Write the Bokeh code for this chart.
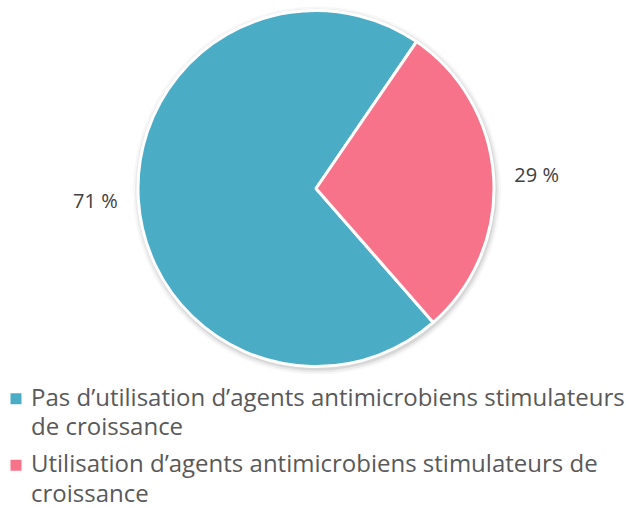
import math
from bokeh.plotting import figure
from bokeh.models import Range1d
from bokeh.core.properties import value
from bokeh.embed import file_html
from bokeh.resources import INLINE

# ---- data ----
categories = ["Pas d’utilisation d’agents antimicrobiens stimulateurs de croissance",
              "Utilisation d’agents antimicrobiens stimulateurs de croissance"]
legend_lines = [["Pas d’utilisation d’agents antimicrobiens stimulateurs", "de croissance"],
                ["Utilisation d’agents antimicrobiens stimulateurs de", "croissance"]]
values = [71, 29]
value_labels = ["71 %", "29 %"]
colors = ["#4BACC6", "#F67389"]

# ---- layout ----
W, H = 640, 508
cx, cy, R = 315.5, 320, 178
first_start_cw = 34.4 + 29 / 100 * 360 - 360  # blue slice start (clockwise from top)

p = figure(width=W, height=H, output_backend="svg", toolbar_location=None,
           x_range=Range1d(0, W), y_range=Range1d(0, H), min_border=0)
p.axis.visible = False
p.grid.visible = False
p.outline_line_color = None
p.background_fill_color = "white"

# shadow
for k, a in [(6, 0.03), (4, 0.05), (2, 0.08)]:
    p.circle(x=cx + 1, y=cy - 2, radius=R + k, fill_color="#000000", fill_alpha=a, line_color=None)

total = sum(values)
start = first_start_cw
for v, col, lab in zip(values, colors, value_labels):
    span = v / total * 360
    end = start + span
    a0 = math.radians(90 - start)
    a1 = math.radians(90 - end)
    p.wedge(x=cx, y=cy, radius=R, start_angle=a0, end_angle=a1, direction="clock",
            fill_color=col, line_color="white", line_width=3)
    mid = math.radians(90 - (start + span / 2))
    lr = 221
    p.text(x=cx + lr * math.cos(mid), y=cy + lr * math.sin(mid) + 1, text=[lab],
           text_font=value("Open Sans"), text_font_size="20px", text_color="#404040",
           text_align="center", text_baseline="middle")
    start = end

# legend
leg_x, base0, step, line_gap = 15.5, 101.3, 66.6, 29.5
text_shift = 11
for i, (lines, col) in enumerate(zip(legend_lines, colors)):
    yb = base0 - i * step
    p.rect(x=leg_x, y=yb + 8.5, width=11, height=11, fill_color=col, line_color=None)
    for j, line in enumerate(lines):
        p.text(x=leg_x + 15, y=yb + text_shift - j * line_gap, text=[line],
               text_font=value("Open Sans"), text_font_size="24px", text_color="#595959",
               text_align="left", text_baseline="alphabetic")

open("out.html", "w").write(file_html(p, INLINE))
